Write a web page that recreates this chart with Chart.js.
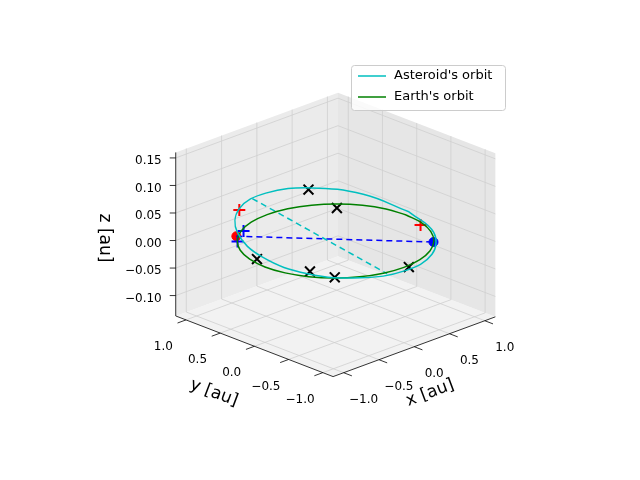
<!DOCTYPE html>
<html><head><meta charset="utf-8">
<script src="https://cdn.jsdelivr.net/npm/chart.js@4"></script>
<style>html,body{margin:0;padding:0;background:#fff}#w{width:640px;height:480px}</style>
</head><body><div id="w"><canvas id="c"></canvas></div>
<script>
// ---- data (3D, au) ----
const xTicks = [-1.0, -0.5, 0.0, 0.5, 1.0];
const yTicks = [-1.0, -0.5, 0.0, 0.5, 1.0];
const zTicks = [-0.10, -0.05, 0.00, 0.05, 0.10, 0.15];
const earthAnglesDeg = [0,15,30,45,60,75,90,105,120,135,150,165,180,195,210,225,240,255,270,285,300,315,330,345,360];
const earthRadius = 1.0;
const asteroidAnglesDeg = [0,30,60,90,120,150,180,210,240,270,300,330,360];
const asteroidRadius = [1.03,1.03,1.02,1.02,1.02,1.03,1.04,1.04,1.03,1.02,1.02,1.03,1.03];
const asteroidZ = [0.005,0.018,0.030,0.038,0.040,0.033,0.020,0.008,0.000,-0.005,-0.006,-0.002,0.005];
const blackX = [[0.46,0.87,0.03],[0.63,0.63,0],[-0.91,0.21,0],[-0.76,-0.41,0],[-0.69,-0.70,0],[0.04,-1.03,0]];
const redPlus = [[-0.53,0.86,0.04],[0.71,-0.51,0.02]];
const bluePlus = [[-0.48,0.85,0],[-0.72,0.69,0]];
const redDot = [[-0.63,0.80,0]];
const blueDot = [[0.69,-0.72,0]];
const blueDash = [[-0.63,0.80,0],[0.69,-0.72,0]];
const cyanDash = [[-0.22,0.99,0.04],[-0.19,-0.95,-0.005]];
const lim = {x:[-1.15,1.15], y:[-1.15,1.15], z:[-0.137,0.16]};

// ---- projection ----
function P(x,y,z){ return {x:336+72.6*x-70.4*y, y:241-27*x-27.4*y-572*z}; }
const toPts = arr => arr.map(p=>P(p[0],p[1],p[2]));
const D = a=>a*Math.PI/180;
const earthPts = earthAnglesDeg.map(t=>P(earthRadius*Math.cos(D(t)),earthRadius*Math.sin(D(t)),0));
const astPts = asteroidAnglesDeg.map((t,i)=>P(asteroidRadius[i]*Math.cos(D(t)),asteroidRadius[i]*Math.sin(D(t)),asteroidZ[i]));

const axesPlugin = {
  id:'axes3d',
  beforeDatasetsDraw(ch){
    const c=ch.ctx, sx=ch.scales.x, sy=ch.scales.y;
    const Q=(x,y,z)=>{const p=P(x,y,z);return [sx.getPixelForValue(p.x),sy.getPixelForValue(p.y)];};
    const poly=(pts,fill)=>{c.beginPath();pts.forEach((p,i)=>i?c.lineTo(p[0],p[1]):c.moveTo(p[0],p[1]));c.closePath();c.fillStyle=fill;c.fill();};
    const line=(a,b,col,w)=>{c.beginPath();c.moveTo(a[0],a[1]);c.lineTo(b[0],b[1]);c.strokeStyle=col;c.lineWidth=w;c.stroke();};
    const [x0,x1]=lim.x,[y0,y1]=lim.y,[z0,z1]=lim.z;
    c.save();
    poly([Q(x0,y0,z0),Q(x1,y0,z0),Q(x1,y1,z0),Q(x0,y1,z0)],'#f2f2f2');
    poly([Q(x0,y1,z0),Q(x1,y1,z0),Q(x1,y1,z1),Q(x0,y1,z1)],'#ebebeb');
    poly([Q(x1,y0,z0),Q(x1,y1,z0),Q(x1,y1,z1),Q(x1,y0,z1)],'#e6e6e6');
    const g='#cfcfcf';
    xTicks.forEach(v=>{line(Q(v,y0,z0),Q(v,y1,z0),g,0.8);line(Q(v,y1,z0),Q(v,y1,z1),g,0.8);});
    yTicks.forEach(v=>{line(Q(x0,v,z0),Q(x1,v,z0),g,0.8);line(Q(x1,v,z0),Q(x1,v,z1),g,0.8);});
    zTicks.forEach(v=>{line(Q(x0,y1,v),Q(x1,y1,v),g,0.8);line(Q(x1,y0,v),Q(x1,y1,v),g,0.8);});
    line(Q(x0,y0,z0),Q(x1,y0,z0),'#000',0.8);
    line(Q(x0,y0,z0),Q(x0,y1,z0),'#000',0.8);
    line(Q(x0,y1,z0),Q(x0,y1,z1),'#000',0.8);
    c.fillStyle='#000'; c.font='12px "DejaVu Sans"'; c.textAlign='center'; c.textBaseline='middle';
    xTicks.forEach(v=>{line(Q(v,y0,z0),Q(v,y0-0.12,z0),'#000',0.8);const p=Q(v,-1.5,z0);c.fillText(v.toFixed(1).replace('-','\u2212'),p[0]-4,p[1]+18);});
    yTicks.forEach(v=>{line(Q(x0,v,z0),Q(x0-0.12,v,z0),'#000',0.8);const p=Q(-1.5,v,z0);c.fillText(v.toFixed(1).replace('-','\u2212'),p[0]+2,p[1]+18);});
    c.textAlign='right';
    zTicks.forEach(v=>{const a=Q(x0,y1,v);line(a,[a[0]-6,a[1]],'#000',0.8);c.fillText(v.toFixed(2).replace('-','\u2212'),a[0]-14,a[1]+3);});
    c.font='17px "DejaVu Sans"'; c.textAlign='center';
    const lab=(t,x,y,r)=>{c.save();c.translate(x,y);c.rotate(r);c.fillText(t,0,0);c.restore();};
    lab('x [au]',430,393,-0.36); lab('y [au]',214,393,0.36); lab('z [au]',104,238,Math.PI/2);
    c.restore();
  },
  afterDraw(ch){
    const c=ch.ctx; c.save();
    c.fillStyle='rgba(255,255,255,0.8)'; c.strokeStyle='#cccccc'; c.lineWidth=1;
    c.beginPath(); c.roundRect(351.5,65.5,154,45,3); c.fill(); c.stroke();
    c.font='13px "DejaVu Sans"'; c.textBaseline='middle'; c.textAlign='left'; c.fillStyle='#000';
    [['#00bfbf',"Asteroid's orbit",76],['#008000',"Earth's orbit",97]].forEach(([col,t,y])=>{
      c.beginPath();c.moveTo(358,y);c.lineTo(386,y);c.strokeStyle=col;c.lineWidth=1.5;c.stroke();c.fillText(t,394,y);});
    c.restore();
  }
};

const ln=(data,col,dash,tension)=>({type:'line',data,borderColor:col,borderWidth:1.5,borderDash:dash||[],pointRadius:0,fill:false,tension:tension||0});
const mk=(data,style,col,r,bw)=>({type:'scatter',data,pointStyle:style,pointRadius:r,borderColor:col,backgroundColor:col,borderWidth:bw,showLine:false});
new Chart(document.getElementById('c'),{
  type:'scatter',
  data:{datasets:[
    ln(astPts,'#00bfbf',null,0.4),
    ln(earthPts,'#008000',null,0.4),
    ln(toPts(cyanDash),'#00bfbf',[6,4]),
    ln(toPts(blueDash),'#0000ff',[6,4]),
    mk(toPts(blackX),'crossRot','#000',7,2),
    mk(toPts(redPlus),'cross','#ff0000',6,2),
    mk(toPts(bluePlus),'cross','#0000ff',6,2),
    mk(toPts(redDot),'circle','#ff0000',4.5,1),
    mk(toPts(blueDot),'circle','#0000ff',4.5,1)
  ]},
  options:{responsive:true,maintainAspectRatio:false,animation:false,
    layout:{padding:0},
    plugins:{legend:{display:false},tooltip:{enabled:false}},
    scales:{x:{type:'linear',min:0,max:640,display:false},y:{type:'linear',min:0,max:480,reverse:true,display:false}}},
  plugins:[axesPlugin]
});
</script></body></html>
